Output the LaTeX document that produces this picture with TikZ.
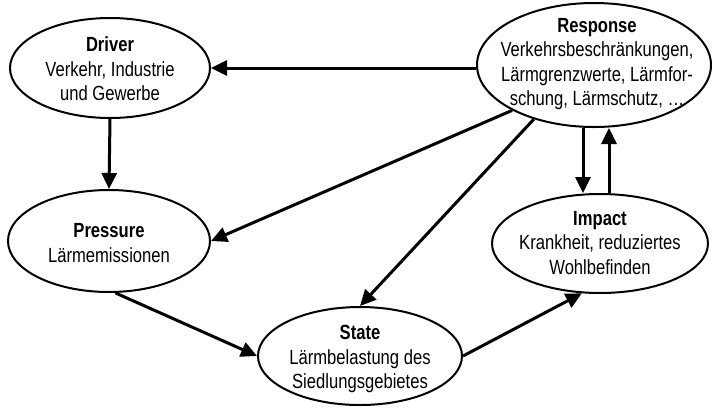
\documentclass[tikz,border=0pt]{standalone}
\usepackage{fontspec}
\setmainfont{Liberation Sans}[FakeStretch=0.81]
\usetikzlibrary{arrows.meta,shapes.geometric}
\begin{document}
\begin{tikzpicture}[x=1pt,y=-1pt,
  oval/.style={ellipse, draw, line width=2pt, inner sep=0pt},
  txt/.style={align=center, inner sep=0pt, font=\fontsize{20.5}{24.5}\selectfont},
  flow/.style={line width=3pt, -{Triangle[length=16pt,width=15pt]}}]
\useasboundingbox (0,0) rectangle (712,408);

% DPSIR elements
\node[oval, minimum width=200pt, minimum height=100pt] (drv) at (110,68) {};
\node[txt] (drv-t) at (110,69) {\textbf{Driver}\\Verkehr, Industrie\\und Gewerbe};

\node[oval, minimum width=234pt, minimum height=124pt] (resp) at (594,65) {};
\node[txt] (resp-t) at (597,64) {\textbf{Response}\\Verkehrsbeschränkungen,\\Lärmgrenzwerte, Lärmfor-\\schung, Lärmschutz, …};

\node[oval, minimum width=202pt, minimum height=102pt] (pres) at (109,241) {};
\node[txt] (pres-t) at (109,243) {\textbf{Pressure}\\Lärmemissionen};

\node[oval, minimum width=216pt, minimum height=99pt] (imp) at (600,243.5) {};
\node[txt] (imp-t) at (600,243) {\textbf{Impact}\\Krankheit, reduziertes\\Wohlbefinden};

\node[oval, minimum width=204pt, minimum height=98pt] (state) at (360,356) {};
\node[txt] (state-t) at (360,359) {\textbf{State}\\Lärmbelastung des\\Siedlungsgebietes};

% columns of the vertical Response/Impact pair
\coordinate (dn) at (583,0);
\coordinate (up) at (609,0);

% causal links
\draw[flow] (resp.west |- drv.east) -- (drv.east);
\draw[flow] (drv.south) -- (pres.north);
\draw[flow] (resp.209) -- (pres.east);
\draw[flow] (resp.222) -- (state.north);
\draw[flow] (resp.south -| dn) -- (imp.north -| dn);
\draw[flow] (imp.north -| up) -- (resp.south -| up);
\draw[flow] (pres.-83) -- (state.west);
\draw[flow] (state.east) -- (imp.-110);
\end{tikzpicture}
\end{document}
